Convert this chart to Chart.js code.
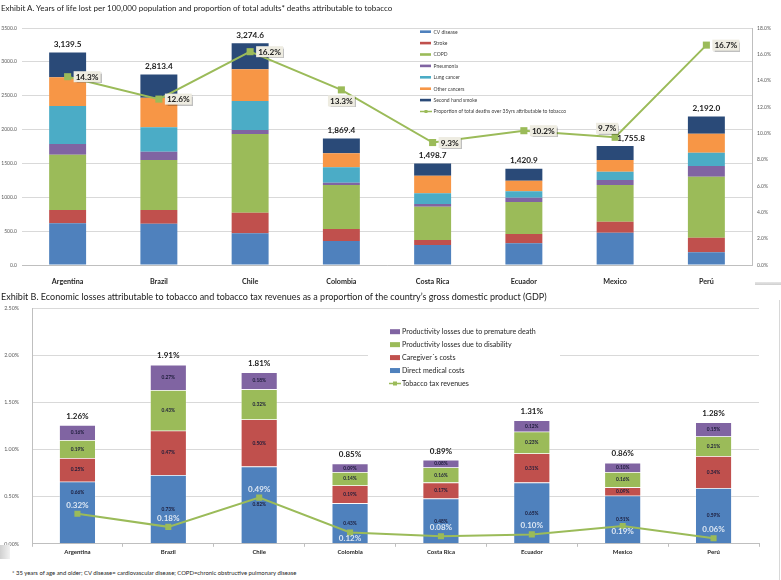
<!DOCTYPE html>
<html><head><meta charset="utf-8">
<script src="https://cdn.jsdelivr.net/npm/chart.js@4.4.0/dist/chart.umd.min.js"></script>
<style>
html,body{margin:0;padding:0;background:#fff;width:781px;height:580px;overflow:hidden;font-family:Lato,"Open Sans",sans-serif;}
#wrap{position:relative;width:781px;height:580px;}
.txt{position:absolute;left:1px;color:#1a1a1a;white-space:nowrap;line-height:1;}
#tA{top:4px;font-size:8px;}
#tB{top:292px;font-size:9px;}
#foot{position:absolute;left:12px;top:569.5px;font-size:5.9px;color:#1a1a1a;white-space:nowrap;line-height:1;}
#cA{position:absolute;left:0;top:0;}
#cB{position:absolute;left:0;top:290px;}
.deco{position:absolute;}
</style></head>
<body><div id="wrap">
<canvas id="cA" width="781" height="290"></canvas>
<canvas id="cB" width="781" height="270"></canvas>
<div id="tA" class="txt">Exhibit A. Years of life lost per 100,000 population and proportion of total adults* deaths attributable to tobacco</div>
<div id="tB" class="txt">Exhibit B. Economic losses attributable to tobacco and tobacco tax revenues as a proportion of the country’s gross domestic product (GDP)</div>
<div id="foot">* 35 years of age and older; CV disease= cardiovascular disease; COPD=chronic obstructive pulmonary disease</div>
<div class="deco" style="left:755px;top:282px;width:26px;height:3px;background:linear-gradient(#e6e6e6,#cfcfcf);"></div>
<div class="deco" style="left:0;top:545px;width:10px;height:14px;background:linear-gradient(90deg,#d0d0d0,#f2f2f2);"></div>
<div class="deco" style="left:779px;top:300px;width:1px;height:280px;background:#d8d8d8;"></div>
</div>
<script>
// ---------- Exhibit A data ----------
const countries = ['Argentina','Brazil','Chile','Colombia','Costa Rica','Ecuador','Mexico','Perú'];
const cvDisease       = [616, 610, 468, 354, 295, 320, 478, 187];
const stroke          = [196, 202, 305, 178, 74, 138, 162, 217];
const copd            = [817, 739, 1162, 650, 493, 472, 542, 900];
const pneumonia       = [158, 123, 59, 34, 39, 64, 73, 158];
const lungCancer      = [562, 360, 428, 227, 158, 94, 123, 197];
const otherCancers    = [423, 436, 468, 207, 260, 157, 173, 280];
const secondHandSmoke = [367.5, 343.4, 384.6, 219.4, 179.7, 175.9, 204.8, 253.0];
const totalYLL        = [3139.5, 2813.4, 3274.6, 1869.4, 1498.7, 1420.9, 1755.8, 2192.0];
const deathShare      = [14.3, 12.6, 16.2, 13.3, 9.3, 10.2, 9.7, 16.7];
const yllTicks = [0, 500, 1000, 1500, 2000, 2500, 3000, 3500];
const shareTicks = [0, 2, 4, 6, 8, 10, 12, 14, 16, 18];

// ---------- Exhibit B data ----------
const directMedical = [0.66, 0.73, 0.82, 0.43, 0.48, 0.65, 0.51, 0.59];
const caregiver     = [0.25, 0.47, 0.50, 0.19, 0.17, 0.31, 0.09, 0.34];
const disability    = [0.19, 0.43, 0.32, 0.14, 0.16, 0.23, 0.16, 0.21];
const premature     = [0.16, 0.27, 0.18, 0.09, 0.08, 0.12, 0.10, 0.15];
const totalLoss     = [1.26, 1.91, 1.81, 0.85, 0.89, 1.31, 0.86, 1.28];
const taxRevenue    = [0.32, 0.18, 0.49, 0.12, 0.08, 0.10, 0.19, 0.06];
const gdpTicks = [0, 0.5, 1.0, 1.5, 2.0, 2.5];

const FONT = 'Lato';
const C = {blue:'#4F81BD', red:'#C0504D', green:'#9BBB59', purple:'#8064A2', aqua:'#4BACC6', orange:'#F79646', navy:'#2A4A78'};

function draw(){
Chart.defaults.font.family = FONT;

// ---------- Chart A ----------
const lineLabelPosA = ['right','right','right','below','right','right','above','right'];
const totalShiftA = [0,0,0,0,0,0,16,0];
const pluginA = {
  id:'annotA',
  afterDatasetsDraw(chart){
    const ctx = chart.ctx;
    ctx.save();
    const top = chart.getDatasetMeta(6);
    ctx.font = 'bold 8.2px ' + FONT;
    ctx.fillStyle = '#1a1a1a';
    ctx.textAlign = 'center'; ctx.textBaseline = 'middle';
    top.data.forEach((el,i)=>{
      ctx.fillText(totalYLL[i].toLocaleString('en-US',{minimumFractionDigits:1,maximumFractionDigits:1}), el.x + totalShiftA[i], el.y - 8);
    });
    const lm = chart.getDatasetMeta(7);
    lm.data.forEach((el,i)=>{
      const t = deathShare[i].toFixed(1)+'%';
      const w = ctx.measureText(t).width + 4, h = 11;
      let cx, cy;
      const p = lineLabelPosA[i];
      if(p==='right'){ cx = el.x + 6 + w/2; cy = el.y; }
      else if(p==='below'){ cx = el.x; cy = el.y + 11; }
      else { cx = el.x - 8; cy = el.y - 9; }
      ctx.save();
      ctx.shadowColor='rgba(0,0,0,0.25)'; ctx.shadowOffsetX=1; ctx.shadowOffsetY=1; ctx.shadowBlur=1;
      ctx.fillStyle = '#EEECE1';
      ctx.fillRect(cx - w/2, cy - h/2, w, h);
      ctx.restore();
      ctx.fillStyle = '#1a1a1a';
      ctx.fillText(t, cx, cy + 0.5);
    });
    // legend
    const ds = chart.data.datasets;
    ctx.font = '5px ' + FONT;
    ctx.textAlign='left';
    ds.forEach((d,j)=>{
      const y = 31.7 + j*11.4;
      if(d.type==='line'){
        ctx.strokeStyle = d.borderColor; ctx.lineWidth = 1.5;
        ctx.beginPath(); ctx.moveTo(420,y); ctx.lineTo(432,y); ctx.stroke();
        ctx.fillStyle = d.borderColor; ctx.fillRect(424.5,y-1.5,3,3);
      } else {
        ctx.fillStyle = d.backgroundColor; ctx.fillRect(420,y-1.3,11,2.6);
      }
      ctx.fillStyle = '#404040';
      ctx.fillText(d.label, 433.5, y+0.3);
    });
    ctx.restore();
  }
};

const barA = (label,data,color)=>({label,data,backgroundColor:color,borderWidth:0,order:1,categoryPercentage:1,barPercentage:0.405});
new Chart(document.getElementById('cA'),{
  type:'bar',
  data:{labels:countries,datasets:[
    barA('CV disease',cvDisease,C.blue),
    barA('Stroke',stroke,C.red),
    barA('COPD',copd,C.green),
    barA('Pneumonia',pneumonia,C.purple),
    barA('Lung cancer',lungCancer,C.aqua),
    barA('Other cancers',otherCancers,C.orange),
    barA('Second hand smoke',secondHandSmoke,C.navy),
    {type:'line',label:'Proportion of total deaths over 35yrs attributable to tobacco',data:deathShare,yAxisID:'y1',
     borderColor:'#9BBB59',backgroundColor:'#9BBB59',borderWidth:2,pointStyle:'rect',pointRadius:5,pointBorderWidth:0,order:0}
  ]},
  options:{
    responsive:false, animation:false, events:[],
    layout:{padding:{top:28,left:0,right:0,bottom:0}},
    plugins:{legend:{display:false},tooltip:{enabled:false}},
    scales:{
      x:{stacked:true,grid:{display:false},border:{display:true,color:'#BFBFBF'},
         ticks:{font:{size:7.2,weight:'bold'},color:'#262626',padding:4,maxRotation:0},
         afterFit(s){s.height=25;}},
      y:{stacked:true,min:0,max:3500,afterBuildTicks(s){s.ticks=yllTicks.map(v=>({value:v}));},
         ticks:{callback:v=>v.toFixed(1),font:{size:5},color:'#595959',padding:5},
         grid:{color:'#D9D9D9',drawTicks:false},border:{display:false},
         afterFit(s){s.width=22;}},
      y1:{position:'right',min:0,max:18,afterBuildTicks(s){s.ticks=shareTicks.map(v=>({value:v}));},
         ticks:{callback:v=>v.toFixed(1)+'%',font:{size:5},color:'#595959',padding:5},
         grid:{display:false,drawTicks:false},border:{display:true,color:'#BFBFBF'},
         afterFit(s){s.width=29;}}
    }
  },
  plugins:[pluginA]
});

// ---------- Chart B ----------
const taxLabelPos = ['above','above','above','below','above','above','below','above'];
const directLabelShift = [-20,0,0,0,0,0,0,0];
const pluginB = {
  id:'annotB',
  afterDatasetsDraw(chart){
    const ctx = chart.ctx;
    ctx.save();
    ctx.textAlign='center'; ctx.textBaseline='middle';
    // segment labels
    ctx.font = 'bold 4.8px ' + FONT;
    ctx.fillStyle = '#1c1c3a';
    const segs = [directMedical,caregiver,disability,premature];
    segs.forEach((arr,k)=>{
      const m = chart.getDatasetMeta(k);
      m.data.forEach((el,i)=>{
        const dy = k===0 ? directLabelShift[i] : 0;
        ctx.fillText(arr[i].toFixed(2)+'%', el.x, (el.y + el.base)/2 + dy);
      });
    });
    // totals
    ctx.font = 'bold 8px ' + FONT;
    ctx.fillStyle = '#1a1a1a';
    chart.getDatasetMeta(3).data.forEach((el,i)=>{
      ctx.fillText(totalLoss[i].toFixed(2)+'%', el.x, el.y - 9);
    });
    // tax labels
    ctx.fillStyle = '#DDE7F3';
    chart.getDatasetMeta(4).data.forEach((el,i)=>{
      const dy = taxLabelPos[i]==='above' ? -8.5 : 5.5;
      ctx.fillText(taxRevenue[i].toFixed(2)+'%', el.x, el.y + dy);
    });
    // legend
    ctx.fillStyle='#ffffff';
    ctx.fillRect(368, 318 - 290, 192, 78);
    const ds = chart.data.datasets;
    const order = [3,2,1,0,4];
    ctx.font = '7.1px ' + FONT;
    ctx.textAlign='left';
    order.forEach((k,j)=>{
      const y = 331.7 - 290 + j*12.95;
      const d = ds[k];
      if(d.type==='line'){
        ctx.strokeStyle = d.borderColor; ctx.lineWidth = 1.5;
        ctx.beginPath(); ctx.moveTo(389,y); ctx.lineTo(401,y); ctx.stroke();
        ctx.fillStyle = d.borderColor; ctx.fillRect(393,y-2,4,4);
      } else {
        ctx.fillStyle = d.backgroundColor; ctx.fillRect(390,y-2.5,10,5);
      }
      ctx.fillStyle = '#262626';
      ctx.fillText(d.label, 402, y+0.3);
    });
    ctx.restore();
  }
};
const barB = (label,data,color)=>({label,data,backgroundColor:color,borderColor:'rgba(255,255,255,0.6)',borderWidth:0.6,order:1,categoryPercentage:1,barPercentage:0.4});
new Chart(document.getElementById('cB'),{
  type:'bar',
  data:{labels:countries,datasets:[
    barB('Direct medical costs',directMedical,C.blue),
    barB('Caregiver´s costs',caregiver,C.red),
    barB('Productivity losses due to disability',disability,C.green),
    barB('Productivity losses due to premature death',premature,C.purple),
    {type:'line',label:'Tobacco tax revenues',data:taxRevenue,borderColor:'#9BBB59',backgroundColor:'#9BBB59',
     borderWidth:2,pointStyle:'rect',pointRadius:4.3,pointBorderWidth:0,order:0,stack:'tax'}
  ]},
  options:{
    responsive:false, animation:false, events:[],
    layout:{padding:{top:18.3,left:0,right:22,bottom:0}},
    plugins:{legend:{display:false},tooltip:{enabled:false}},
    scales:{
      x:{stacked:true,grid:{display:true,drawOnChartArea:false,drawTicks:true,tickLength:3,color:'#BFBFBF'},
         border:{display:true,color:'#BFBFBF'},
         ticks:{font:{size:6,weight:'bold'},color:'#262626',padding:1.5,maxRotation:0},
         afterFit(s){s.height=15;}},
      y:{stacked:true,min:0,max:2.5,afterBuildTicks(s){s.ticks=gdpTicks.map(v=>({value:v}));},
         ticks:{callback:v=>v.toFixed(2)+'%',font:{size:5.3},color:'#595959',padding:13},
         grid:{color:'#D9D9D9',drawTicks:false},border:{display:true,color:'#BFBFBF'},
         afterFit(s){s.width=32;}}
    }
  },
  plugins:[pluginB]
});
}
Promise.all([document.fonts.load('8px Lato'),document.fonts.load('bold 8px Lato')]).then(draw,draw);
</script>
</body></html>
